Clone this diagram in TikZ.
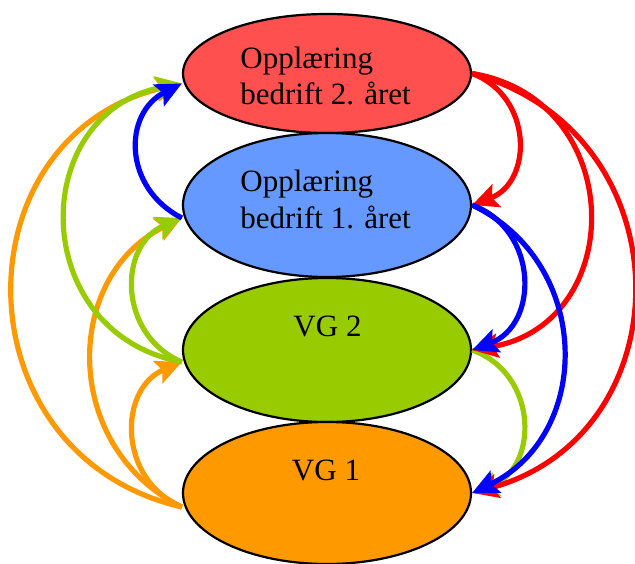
\documentclass[tikz,border=0pt]{standalone}
\usepackage{fontspec}
\setmainfont{Liberation Serif}
\usetikzlibrary{shapes.geometric,arrows.meta}
\definecolor{ellred}{HTML}{FF5050}
\definecolor{ellblue}{HTML}{6699FF}
\definecolor{ellgreen}{HTML}{99CC00}
\definecolor{ellorange}{HTML}{FF9900}
\definecolor{arrred}{HTML}{FF0000}
\definecolor{arrblue}{HTML}{0000FF}
\definecolor{arrgreen}{HTML}{99CC00}
\definecolor{arrorange}{HTML}{FF9900}
\tikzset{
  box/.style={ellipse,draw=black,line width=1.1pt,inner sep=0pt,minimum width=144pt},
  lbl/.style={inner sep=0pt,anchor=base west,font=\fontsize{15.5}{18}\selectfont},
  arr/.style={line width=2.6pt,arrows={-Stealth[length=13pt,width=12pt,inset=2.5pt]}}}
\begin{document}
\begin{tikzpicture}[x=0.5pt,y=0.5pt]
\useasboundingbox (0,0) rectangle (635,563);
% ellipses
\node[box,fill=ellred,minimum height=59.5pt] (r) at (327,489.5) {};
\node[box,fill=ellblue,minimum height=72pt] (b) at (327,358) {};
\node[box,fill=ellgreen,minimum height=72pt] (g) at (327,213) {};
\node[box,fill=ellorange,minimum height=71pt] (o) at (327,70) {};
% labels
\node[lbl] (r1) at (240,494.7) {Opplæring};
\node[lbl] (r2) at (240,458) {bedrift 2. året};
\node[lbl] (b1) at (240,371.3) {Opplæring};
\node[lbl] (b2) at (240,334.7) {bedrift 1. året};
\node[lbl,anchor=base] (g1) at (327.5,226.3) {VG 2};
\node[lbl,anchor=base] (o1) at (326,82.3) {VG 1};
% left side arrows
\draw[arr,arrorange] ([yshift=-7pt]o.west) .. controls +(-225,52) and +(-225,-52) .. ([yshift=-5pt]r.west);
\draw[arr,arrorange] ([yshift=-7pt]o.west) .. controls +(-120,59) and +(-120,-59) .. ([yshift=-6.5pt]b.west);
\draw[arr,arrorange] ([yshift=-7pt]o.west) .. controls +(-64,27) and +(-64,-27) .. ([yshift=-6pt]g.west);
\draw[arr,arrgreen] ([yshift=-6pt]g.west) .. controls +(-155,29) and +(-155,-29) .. ([yshift=-5pt]r.west);
\draw[arr,arrgreen] ([yshift=-6pt]g.west) .. controls +(-64,27) and +(-64,-27) .. ([yshift=-6.5pt]b.west);
\draw[arr,arrblue] ([yshift=-6.5pt]b.west) .. controls +(-59,30) and +(-59,-30) .. ([yshift=-5pt]r.west);
% right side arrows
\draw[arr,arrgreen] (g.east) .. controls +(67,-24) and +(67,24) .. (o.east);
\draw[arr,arrred] (r.east) .. controls +(61,-23) and +(61,23) .. (b.east);
\draw[arr,arrred] (r.east) .. controls +(156,-26) and +(156,26) .. (g.east);
\draw[arr,arrred] (r.east) .. controls +(215,-59) and +(215,59) .. (o.east);
\draw[arr,arrblue] (b.east) .. controls +(67,-25) and +(67,25) .. (g.east);
\draw[arr,arrblue] (b.east) .. controls +(121,-58) and +(121,58) .. (o.east);
\end{tikzpicture}
\end{document}
